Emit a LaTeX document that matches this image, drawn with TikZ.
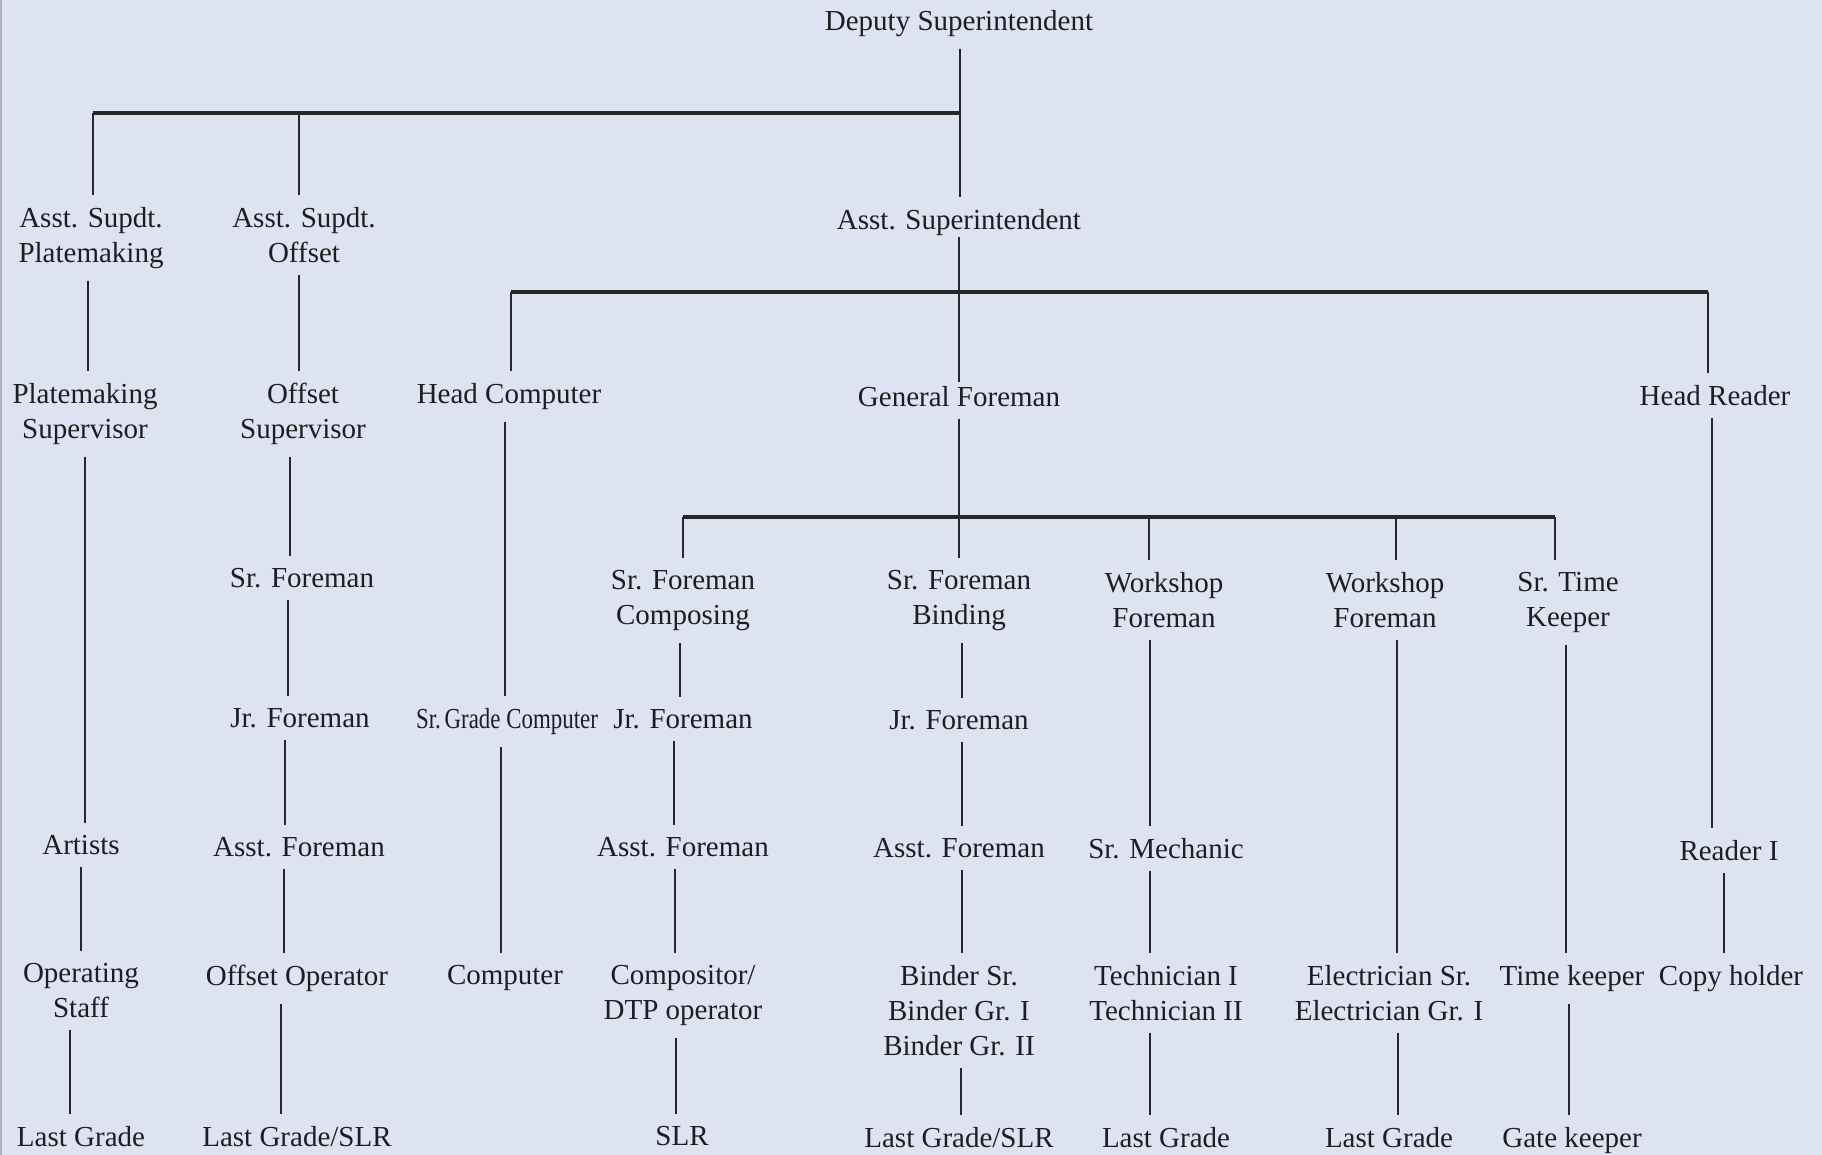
\documentclass[tikz,border=0pt]{standalone}
\usepackage{fontspec}
\setmainfont{Liberation Serif}
\usepackage{graphicx}
\definecolor{paper}{HTML}{DDE3F0}
\definecolor{ink}{HTML}{1E1E22}
\definecolor{rule}{HTML}{26262B}
\newcommand\vl[4][]{\path ([xshift=#2]#3.south) coordinate (vlt);\draw[conn,#1] (vlt) -- (vlt |- #4.north);}
\begin{document}
\begin{tikzpicture}[x=1pt,y=-1pt,
  txt/.style={anchor=north, inner sep=0pt, align=center, font=\fontsize{29}{35}\selectfont, text=ink},
  conn/.style={draw=rule, line width=1.6pt, shorten <=12pt, shorten >=12pt},
  branch/.style={draw=rule, line width=1.6pt, shorten >=12pt},
  bar/.style={draw=rule, line width=3.6pt}]
\fill[paper] (0,0) rectangle (1822,1155);
\useasboundingbox (0,0) rectangle (1822,1155);
\draw[gray!60, line width=1.5pt] (1,0) -- (1,1155);
% nodes
\node[txt] (dep) at (959,10) {Deputy Superintendent};
\node[txt] (aspm) at (91,207) {Asst. Supdt.\\Platemaking};
\node[txt] (asoff) at (304,207) {Asst. Supdt.\\Offset};
\node[txt] (asup) at (959,209) {Asst. Superintendent};
\node[txt] (pmsup) at (85,383) {Platemaking\\Supervisor};
\node[txt] (offsup) at (303,383) {Offset\\Supervisor};
\node[txt] (hc) at (509,383) {Head Computer};
\node[txt] (gf) at (959,386) {General Foreman};
\node[txt] (hr) at (1715,385) {Head Reader};
\node[txt] (srf1) at (302,568) {Sr. Foreman};
\node[txt] (sfc) at (683,570) {Sr. Foreman\\Composing};
\node[txt] (sfb) at (959,570) {Sr. Foreman\\Binding};
\node[txt] (wf1) at (1164,572) {Workshop\\Foreman};
\node[txt] (wf2) at (1385,572) {Workshop\\Foreman};
\node[txt] (stk) at (1568,572) {Sr. Time\\Keeper};
\node[txt] (jrf1) at (300,708) {Jr. Foreman};
\node[txt] (srgc) at (507,708) {\scalebox{0.79}[1]{Sr.\,Grade Computer}};
\node[txt] (jrfc) at (683,709) {Jr. Foreman};
\node[txt] (jrfb) at (959,710) {Jr. Foreman};
\node[txt] (art) at (81,835) {Artists};
\node[txt] (asf1) at (299,837) {Asst. Foreman};
\node[txt] (asfc) at (683,837) {Asst. Foreman};
\node[txt] (asfb) at (959,838) {Asst. Foreman};
\node[txt] (srm) at (1166,838) {Sr. Mechanic};
\node[txt] (r1) at (1729,840) {Reader I};
\node[txt] (ops) at (81,963) {Operating\\Staff};
\node[txt] (offop) at (297,965) {Offset Operator};
\node[txt] (comp) at (505,965) {Computer};
\node[txt] (cdtp) at (683,965) {Compositor/\\DTP operator};
\node[txt] (binder) at (959,965) {Binder Sr.\\Binder Gr. I\\Binder Gr. II};
\node[txt] (tech) at (1166,965) {Technician I\\Technician II};
\node[txt] (elec) at (1389,965) {Electrician Sr.\\Electrician Gr. I};
\node[txt] (tk) at (1572,965) {Time keeper};
\node[txt] (ch) at (1731,965) {Copy holder};
\node[txt] (lg1) at (81,1126) {Last Grade};
\node[txt] (lgs1) at (297,1126) {Last Grade/SLR};
\node[txt] (slr) at (682,1126) {SLR};
\node[txt] (lgs2) at (959,1127) {Last Grade/SLR};
\node[txt] (lg2) at (1166,1127) {Last Grade};
\node[txt] (lg3) at (1389,1127) {Last Grade};
\node[txt] (gate) at (1572,1127) {Gate keeper};
% bar junctions
\coordinate (j1a) at (93,113);
\coordinate (j1b) at (299,113);
\coordinate (j1c) at (960,113);
\coordinate (j2a) at (511,292);
\coordinate (j2b) at (1708,292);
\coordinate (j3a) at (683,517);
\coordinate (j3b) at (959,517);
\coordinate (j3c) at (1149,517);
\coordinate (j3d) at (1396,517);
\coordinate (j3e) at (1555,517);
% level 1
\vl{1}{dep}{asup}
\draw[bar] (j1a) -- (j1c);
\draw[branch] (j1a) -- (j1a |- aspm.north);
\draw[branch] (j1b) -- (j1b |- asoff.north);
% level 2
\vl{-3}{aspm}{pmsup}
\vl{-5}{asoff}{offsup}
\vl[shorten <=1pt, shorten >=4pt]{0}{asup}{gf}
\draw[bar] (j2a) -- (j2b);
\draw[branch] (j2a) -- (j2a |- hc.north);
\draw[branch] (j2b) -- (j2b |- hr.north);
% platemaking column
\vl{0}{pmsup}{art}
\vl{0}{art}{ops}
\vl{-11}{ops}{lg1}
% offset column
\vl{-13}{offsup}{srf1}
\vl{-14}{srf1}{jrf1}
\vl{-15}{jrf1}{asf1}
\vl{-15}{asf1}{offop}
\vl{-16}{offop}{lgs1}
% computer column
\vl{-4}{hc}{srgc}
\vl{-6}{srgc}{comp}
% general foreman
\draw[conn, shorten >=0pt] (gf.south) -- (gf.south |- j3b);
\draw[bar] (j3a) -- (j3e);
\draw[branch] (j3a) -- (j3a |- sfc.north);
\draw[branch] (j3b) -- (j3b |- sfb.north);
\draw[branch] (j3c) -- (j3c |- wf1.north);
\draw[branch] (j3d) -- (j3d |- wf2.north);
\draw[branch] (j3e) -- (j3e |- stk.north);
% composing
\vl{-3}{sfc}{jrfc}
\vl{-9}{jrfc}{asfc}
\vl{-8}{asfc}{cdtp}
\vl{-7}{cdtp}{slr}
% binding
\vl{3}{sfb}{jrfb}
\vl{3}{jrfb}{asfb}
\vl{3}{asfb}{binder}
\vl{2}{binder}{lgs2}
% workshop 1
\vl{-14}{wf1}{srm}
\vl{-16}{srm}{tech}
\vl{-16}{tech}{lg2}
% workshop 2
\vl{12}{wf2}{elec}
\vl{9}{elec}{lg3}
% time keeper
\vl{-2}{stk}{tk}
\vl{-3}{tk}{gate}
% reader
\vl{-3}{hr}{r1}
\vl{-5}{r1}{ch}
\end{tikzpicture}
\end{document}
